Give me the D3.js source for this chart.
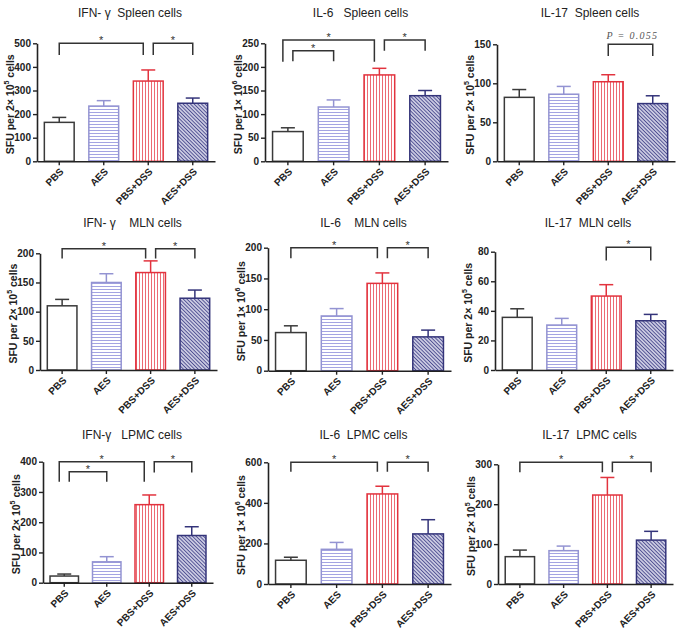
<!DOCTYPE html>
<html><head><meta charset="utf-8">
<script src="https://cdn.jsdelivr.net/npm/d3@7"></script>
<style>body{margin:0;background:#fff}svg{display:block}</style>
</head><body>
<svg id="c" width="683" height="631"></svg>
<script>
// ---------- data ----------
const categories = ["PBS", "AES", "PBS+DSS", "AES+DSS"];

const titles = [
  "IFN- γ  Spleen cells", "IL-6   Spleen cells", "IL-17  Spleen cells",
  "IFN- γ    MLN cells", "IL-6    MLN cells", "IL-17  MLN cells",
  "IFN-γ   LPMC cells", "IL-6  LPMC cells", "IL-17  LPMC cells"
];
const yLabelPre = ["SFU per 2× 10", "SFU per 1× 10", "SFU per 2× 10",
                   "SFU per 2× 10", "SFU per 1× 10", "SFU per 2× 10",
                   "SFU per 2× 10", "SFU per 1× 10", "SFU per 2× 10"];
const yLabelExp = ["5", "6", "5", "5", "6", "5", "5", "6", "5"];

const means = [
  [165, 234, 340, 246],
  [63, 115, 183, 139],
  [82, 86, 102, 74],
  [110, 150, 167, 123],
  [62, 89, 142, 55],
  [35.6, 30.4, 50, 33.3],
  [22, 69, 258, 156],
  [117, 171, 444, 247],
  [68.5, 83.5, 223, 110]
];
const sems = [
  [21, 23, 47, 22],
  [8, 15, 14, 11],
  [10, 10, 9, 10],
  [11, 15, 20, 14],
  [11, 12, 17, 11],
  [5.8, 4.5, 7.7, 4.3],
  [6.6, 17, 32, 29],
  [15, 34, 38, 70],
  [16.5, 11.5, 44, 22]
];
const yMax = [500, 250, 150, 200, 200, 80, 400, 600, 300];
const yStep = [100, 50, 50, 50, 50, 20, 100, 200, 100];

// significance brackets: [fromIndex, toIndex, topValue, legBottomValue, label]
const brackets = [
  [[0, 2, 500, 450, "*"], [2, 3, 500, 450, "*"]],
  [[0, 2, 257, 211, "*"], [0, 1, 234, 212, "*"], [2, 3, 257, 234, "*"]],
  [[2, 3, 150, 135, "P = 0.055"]],
  [[0, 2, 208, 191, "*"], [2, 3, 208, 191, "*"]],
  [[0, 2, 200, 183, "*"], [2, 3, 200, 183, "*"]],
  [[2, 3, 83, 74, "*"]],
  [[0, 2, 400, 334, "*"], [0, 1, 367, 334, "*"], [2, 3, 400, 364, "*"]],
  [[0, 2, 600, 554, "*"], [2, 3, 600, 554, "*"]],
  [[0, 2, 305, 280, "*"], [2, 3, 305, 280, "*"]]
];

// ---------- layout (plot frames) ----------
const frames = [
  {l: 37, t: 43.3, r: 215, b: 161.3},
  {l: 265, t: 43.3, r: 448, b: 161.3},
  {l: 497, t: 44.3, r: 675, b: 161.3},
  {l: 40, t: 253.3, r: 217, b: 370},
  {l: 268, t: 247.7, r: 451, b: 370.7},
  {l: 495, t: 251.7, r: 673, b: 370},
  {l: 43, t: 461.7, r: 213, b: 582.7},
  {l: 268, t: 462.3, r: 451, b: 584},
  {l: 498, t: 464.3, r: 673, b: 584}
];
const titleY = [17, 17, 17, 227, 227, 227, 439, 439, 439];

const strokeCol = ["#3a3a3a", "#9393d2", "#e2333e", "#34347a"];
const fillCol = ["#ffffff", "url(#patH)", "url(#patV)", "url(#patD)"];
const FONT = "'Liberation Sans', Arial, sans-serif";

const svg = d3.select("#c");
const defs = svg.append("defs");
// horizontal lines (AES)
const pH = defs.append("pattern").attr("id", "patH").attr("patternUnits", "userSpaceOnUse")
  .attr("width", 6).attr("height", 3);
pH.append("rect").attr("width", 6).attr("height", 3).attr("fill", "#fff");
pH.append("line").attr("x1", 0).attr("x2", 6).attr("y1", 1.5).attr("y2", 1.5)
  .attr("stroke", "#a4a4e2").attr("stroke-width", 1);
// vertical lines (PBS+DSS)
const pV = defs.append("pattern").attr("id", "patV").attr("patternUnits", "userSpaceOnUse")
  .attr("width", 3).attr("height", 6);
pV.append("rect").attr("width", 3).attr("height", 6).attr("fill", "#fff");
pV.append("line").attr("x1", 1.5).attr("x2", 1.5).attr("y1", 0).attr("y2", 6)
  .attr("stroke", "#ec6b74").attr("stroke-width", 1);
// diagonal lines (AES+DSS)
const pD = defs.append("pattern").attr("id", "patD").attr("patternUnits", "userSpaceOnUse")
  .attr("width", 2.6).attr("height", 6).attr("patternTransform", "rotate(-45)");
pD.append("rect").attr("width", 2.6).attr("height", 6).attr("fill", "#dcdcee");
pD.append("line").attr("x1", 1.3).attr("x2", 1.3).attr("y1", 0).attr("y2", 6)
  .attr("stroke", "#4d4d90").attr("stroke-width", 1.1);

frames.forEach((f, p) => {
  const g = svg.append("g");
  const x = d3.scaleBand().domain(categories).range([f.l, f.r])
    .paddingInner(0.33).paddingOuter(0.165);
  const y = d3.scaleLinear().domain([0, yMax[p]]).range([f.b, f.t]);

  // title
  g.append("text").attr("x", (f.l + f.r) / 2 + 4).attr("y", titleY[p])
    .attr("text-anchor", "middle").style("white-space", "pre")
    .attr("font-family", FONT).attr("font-size", 12).attr("fill", "#222")
    .text(titles[p]);

  // y label
  const yl = g.append("text")
    .attr("transform", `translate(${f.l - 23},${(f.t + f.b) / 2 + 2}) rotate(-90)`)
    .attr("text-anchor", "middle").attr("font-family", FONT).attr("font-size", 10.5)
    .attr("font-weight", "bold").attr("fill", "#222");
  yl.append("tspan").text(yLabelPre[p]);
  yl.append("tspan").attr("font-size", 7).attr("dy", -5).text(yLabelExp[p]);
  yl.append("tspan").attr("dy", 5).text(" cells");

  // bars
  const vals = categories.map((c, i) => ({c, i, m: means[p][i], e: sems[p][i]}));
  g.selectAll("rect.bar").data(vals).enter().append("rect")
    .attr("x", d => x(d.c)).attr("width", x.bandwidth())
    .attr("y", d => y(d.m)).attr("height", d => y(0) - y(d.m))
    .attr("fill", d => fillCol[d.i]).attr("stroke", d => strokeCol[d.i])
    .attr("stroke-width", 1.5);
  // error bars
  const eb = g.selectAll("g.err").data(vals).enter().append("g")
    .attr("stroke", d => strokeCol[d.i]).attr("stroke-width", 1.5);
  eb.append("line").attr("x1", d => x(d.c) + x.bandwidth() / 2).attr("x2", d => x(d.c) + x.bandwidth() / 2)
    .attr("y1", d => y(d.m)).attr("y2", d => y(d.m + d.e));
  eb.append("line").attr("x1", d => x(d.c) + x.bandwidth() / 2 - 7).attr("x2", d => x(d.c) + x.bandwidth() / 2 + 7)
    .attr("y1", d => y(d.m + d.e)).attr("y2", d => y(d.m + d.e));

  // axes
  const ticks = d3.range(0, yMax[p] + 0.001, yStep[p]);
  const ya = g.append("g").attr("transform", `translate(${f.l},0)`)
    .call(d3.axisLeft(y).tickValues(ticks).tickSize(4).tickSizeOuter(0).tickPadding(2));
  const xa = g.append("g").attr("transform", `translate(0,${f.b})`)
    .call(d3.axisBottom(x).tickSize(4).tickSizeOuter(0));
  [ya, xa].forEach(a => {
    a.select(".domain").attr("stroke", "#222").attr("stroke-width", 1.6);
    a.selectAll(".tick line").attr("stroke", "#222").attr("stroke-width", 1.4);
    a.selectAll("text").attr("font-family", FONT).attr("font-size", 10)
      .attr("font-weight", "bold").attr("fill", "#222");
  });
  xa.selectAll(".tick text").attr("y", 0).attr("dy", 0)
    .attr("text-anchor", "end").attr("transform", "translate(5,11) rotate(-45)");

  // brackets
  const br = brackets[p];
  const cx = i => x(categories[i]) + x.bandwidth() / 2;
  const endX = (bi, bar, other) => {
    const touching = br.map((b, k) => ({k, o: b[0] === bar ? b[1] : (b[1] === bar ? b[0] : null)}))
      .filter(d => d.o !== null);
    if (touching.length < 2) return cx(bar);
    touching.sort((a, b) => 1 / (a.o - bar) - 1 / (b.o - bar));
    const idx = touching.findIndex(d => d.k === bi);
    return cx(bar) + (idx === 0 ? -5 : 5);
  };
  br.forEach((b, k) => {
    const x1 = endX(k, b[0], b[1]), x2 = endX(k, b[1], b[0]);
    const yt = y(b[2]), yb = y(b[3]);
    g.append("path").attr("d", `M${x1},${yb}V${yt}H${x2}V${yb}`)
      .attr("fill", "none").attr("stroke", "#333").attr("stroke-width", 1.5);
    if (b[4] === "*") {
      g.append("text").attr("x", (x1 + x2) / 2).attr("y", yt + 1)
        .attr("text-anchor", "middle").attr("font-family", FONT).attr("font-size", 11)
        .attr("fill", "#333").text(b[4]);
    } else {
      g.append("text").attr("x", (x1 + x2) / 2 + 2).attr("y", yt - 5)
        .attr("text-anchor", "middle").attr("font-family", "'Liberation Serif', 'Times New Roman', serif")
        .attr("font-style", "italic").attr("font-size", 10).attr("letter-spacing", 1.3)
        .style("white-space", "pre").attr("fill", "#555").text(b[4]);
    }
  });
});
</script>
</body></html>
